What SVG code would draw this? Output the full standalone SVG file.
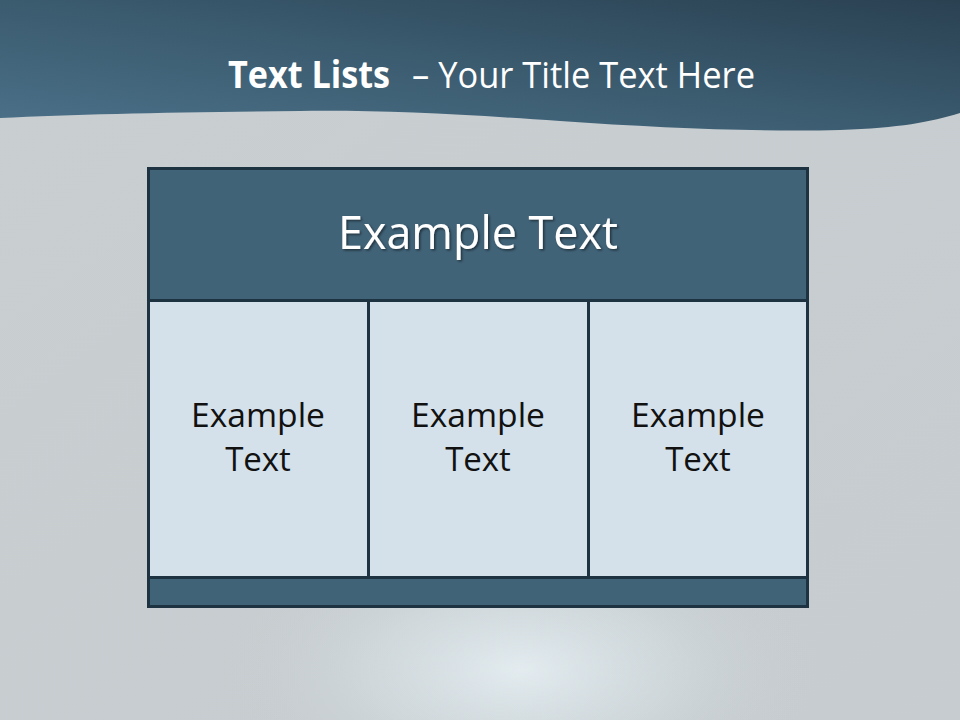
<svg xmlns="http://www.w3.org/2000/svg" width="960" height="720" viewBox="0 0 960 720">
  <defs>
    <linearGradient id="bg" x1="0" y1="0" x2="1" y2="1">
      <stop offset="0" stop-color="#c9ced1"/>
      <stop offset="1" stop-color="#c6cccf"/>
    </linearGradient>
    <radialGradient id="glow" cx="520" cy="670" r="300" gradientUnits="userSpaceOnUse" gradientTransform="translate(520 670) scale(1 0.5) translate(-520 -670)">
      <stop offset="0" stop-color="#e8f1f5" stop-opacity="0.85"/>
      <stop offset="0.5" stop-color="#dae5ea" stop-opacity="0.45"/>
      <stop offset="1" stop-color="#c8cdd0" stop-opacity="0"/>
    </radialGradient>
    <linearGradient id="band" x1="0" y1="1" x2="1" y2="0">
      <stop offset="0" stop-color="#4b7189"/>
      <stop offset="0.5" stop-color="#3b5b6f"/>
      <stop offset="1" stop-color="#2a4152"/>
    </linearGradient>
    <filter id="sh" x="-10%" y="-10%" width="120%" height="130%">
      <feDropShadow dx="1.5" dy="1.5" stdDeviation="1" flood-color="#000" flood-opacity="0.5"/>
    </filter>
    <style>
      .title { font-family: "Open Sans", "DejaVu Sans", sans-serif; fill: #ffffff; font-size: 37px; }
      .frame { stroke: #1e3342; stroke-width: 3; }
      .dark { fill: #416378; }
      .light { fill: #d4e1ea; }
      .head { font-family: "Open Sans", "DejaVu Sans", sans-serif; fill: #ffffff; font-size: 45px; text-anchor: middle; }
      .cell { font-family: "Open Sans", "DejaVu Sans", sans-serif; fill: #111111; font-size: 33px; text-anchor: middle; }
    </style>
  </defs>

  <rect width="960" height="720" fill="url(#bg)"/>
  <rect width="960" height="720" fill="url(#glow)"/>
  <path d="M0 0 H960 V113 C930 122 900 128 840 130 C760 132 660 128 560 121 C460 114 380 110 300 111 C180 112 80 114 0 118 Z" fill="url(#band)"/>

  <text x="228" y="88" class="title"><tspan font-weight="bold" textLength="162" lengthAdjust="spacingAndGlyphs">Text Lists</tspan><tspan x="412" textLength="343" lengthAdjust="spacingAndGlyphs">– Your Title Text Here</tspan></text>

  <g id="table">
    <g id="header">
      <rect x="148.5" y="168.5" width="659" height="132" class="dark frame"/>
      <text x="478" y="249" class="head" filter="url(#sh)" textLength="280" lengthAdjust="spacingAndGlyphs">Example Text</text>
    </g>
    <g id="cell1">
      <rect x="148.5" y="300.5" width="220" height="277" class="light frame"/>
      <text x="258" y="427" class="cell" textLength="134" lengthAdjust="spacingAndGlyphs">Example</text>
      <text x="258" y="471" class="cell">Text</text>
    </g>
    <g id="cell2">
      <rect x="368.5" y="300.5" width="220" height="277" class="light frame"/>
      <text x="478" y="427" class="cell" textLength="134" lengthAdjust="spacingAndGlyphs">Example</text>
      <text x="478" y="471" class="cell">Text</text>
    </g>
    <g id="cell3">
      <rect x="588.5" y="300.5" width="219" height="277" class="light frame"/>
      <text x="698" y="427" class="cell" textLength="134" lengthAdjust="spacingAndGlyphs">Example</text>
      <text x="698" y="471" class="cell">Text</text>
    </g>
    <g id="footer">
      <rect x="148.5" y="577.5" width="659" height="29" class="dark frame"/>
    </g>
  </g>
  <g id="connectors"/>
</svg>
